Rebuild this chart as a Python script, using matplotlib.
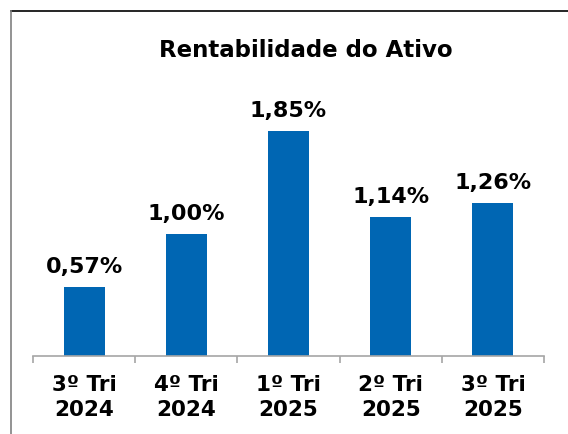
import matplotlib.pyplot as plt
from matplotlib.lines import Line2D

categories = ["3º Tri\n2024", "4º Tri\n2024", "1º Tri\n2025", "2º Tri\n2025", "3º Tri\n2025"]
values = [0.57, 1.00, 1.85, 1.14, 1.26]
labels = ["0,57%", "1,00%", "1,85%", "1,14%", "1,26%"]

bar_color = "#0066B3"
axis_gray = "#A6A6A6"

fig = plt.figure(figsize=(5.68, 4.35), dpi=100)
ax = fig.add_axes([0.0581, 0.1793, 0.8996, 0.5907])

x = range(len(values))
ax.bar(x, values, width=0.4, color=bar_color)

for i, (v, lbl) in enumerate(zip(values, labels)):
    ax.annotate(lbl, (i, v), xytext=(0, 8), textcoords="offset points",
                ha="center", va="bottom", fontsize=16, fontweight="bold")

ax.set_xlim(-0.5, len(values) - 0.5)
ax.set_ylim(0, 2.113)
ax.set_yticks([])
for s in ["top", "right", "left"]:
    ax.spines[s].set_visible(False)
ax.spines["bottom"].set_color(axis_gray)
ax.spines["bottom"].set_linewidth(1.2)

# boundaries as major ticks, labels on minor ticks
ax.set_xticks([i - 0.5 for i in range(len(values) + 1)])
ax.set_xticklabels([])
ax.tick_params(axis="x", which="major", length=5, color=axis_gray, width=1.2, direction="out")
ax.set_xticks(list(x), minor=True)
ax.set_xticklabels(categories, minor=True, fontsize=15.5, fontweight="bold",
                   linespacing=1.3)
ax.tick_params(axis="x", which="minor", length=0, pad=13)

fig.text(0.539, 0.884, "Rentabilidade do Ativo", ha="center", va="center",
         fontsize=16.5, fontweight="bold")

# frame lines
fig.add_artist(Line2D([11 / 568, 1], [1 - 12 / 435, 1 - 12 / 435],
                      transform=fig.transFigure, color="black", lw=1.2))
fig.add_artist(Line2D([11 / 568, 11 / 568], [0, 1 - 12 / 435],
                      transform=fig.transFigure, color="#808080", lw=1.2))

fig.savefig("out.png", dpi=100)
